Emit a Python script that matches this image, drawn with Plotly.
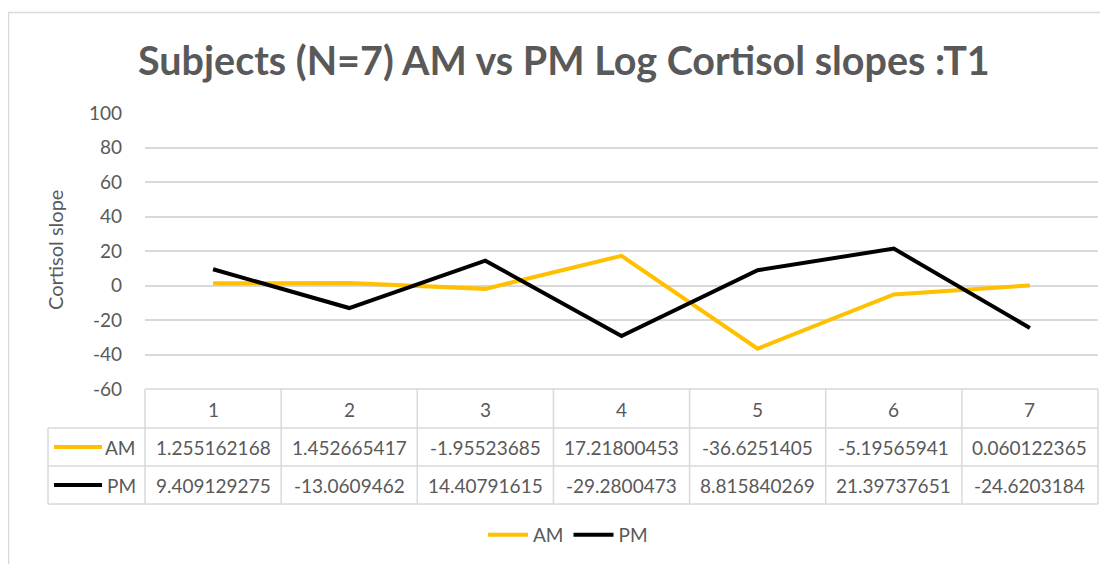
import plotly.graph_objects as go

# ---------------- data ----------------
subjects = [1, 2, 3, 4, 5, 6, 7]
am_slopes = [1.255162168, 1.452665417, -1.95523685, 17.21800453, -36.6251405, -5.19565941, 0.060122365]
pm_slopes = [9.409129275, -13.0609462, 14.40791615, -29.2800473, 8.815840269, 21.39737651, -24.6203184]
y_ticks = [-60, -40, -20, 0, 20, 40, 60, 80, 100]
series_names = ["AM", "PM"]

TITLE = "Subjects (N=7) AM vs PM Log Cortisol slopes :T1"
Y_TITLE = "Cortisol slope"

# ---------------- style ----------------
AM_COLOR = "#FFC000"
PM_COLOR = "#000000"
TEXT = "#595959"
GRID = "#D9D9D9"
FONT = "Lato"

OFF = 8                      # browser body margin
W, H = 1100, 556
PL, PR, PT, PB = 145 - OFF, 1098 - OFF, 113 - OFF, 389 - OFF


def px(x):
    return (x - OFF - PL) / (PR - PL)


def py(y):
    return (PB - (y - OFF)) / (PB - PT)


fig = go.Figure()
series = [(series_names[0], am_slopes, AM_COLOR), (series_names[1], pm_slopes, PM_COLOR)]
for name, vals, col in series:
    fig.add_trace(go.Scatter(x=subjects, y=vals, mode="lines", name=name,
                             line=dict(color=col, width=4)))

shapes = []
annotations = []


def hline(y, x0, x1):
    shapes.append(dict(type="line", xref="paper", yref="paper", x0=px(x0), x1=px(x1),
                       y0=py(y), y1=py(y), line=dict(color=GRID, width=1.5), layer="below"))


def vline_paper(x, y0, y1):
    shapes.append(dict(type="line", xref="paper", yref="paper", x0=px(x), x1=px(x),
                       y0=py(y0), y1=py(y1), line=dict(color=GRID, width=1.5), layer="below"))


# table grid
hline(389, 145, 1098)
for yy in (428, 466, 504):
    hline(yy, 48, 1098)
vline_paper(48, 428, 504)
vline_paper(145, 389, 504)
vline_paper(1098, 389, 504)
for k in range(len(subjects) - 1):
    xb = (subjects[k] + subjects[k + 1]) / 2
    shapes.append(dict(type="line", xref="x", yref="paper", x0=xb, x1=xb,
                       y0=py(389), y1=py(504), line=dict(color=GRID, width=1.5), layer="below"))

# chart frame (left & top)
shapes.append(dict(type="line", xref="paper", yref="paper", x0=px(8.5), x1=px(8.5),
                   y0=py(12), y1=py(600), line=dict(color=GRID, width=1.5)))
shapes.append(dict(type="line", xref="paper", yref="paper", x0=px(8), x1=px(1200),
                   y0=py(12.5), y1=py(12.5), line=dict(color=GRID, width=1.5)))


def label(x, y, text, size=19, xref="paper", xanchor="center", angle=0):
    annotations.append(dict(x=x, y=y, xref=xref, yref="paper", text=text, showarrow=False,
                            xanchor=xanchor, yanchor="middle", textangle=angle,
                            font=dict(size=size, color=TEXT, family=FONT)))


# header row
for s in subjects:
    label(s, py(409), str(s), xref="x")

# data rows
row_y = [447, 485]
for (name, vals, col), ry in zip(series, row_y):
    for s, v in zip(subjects, vals):
        label(s, py(ry), str(v), xref="x")
    shapes.append(dict(type="line", xref="paper", yref="paper", x0=px(54), x1=px(102),
                       y0=py(ry), y1=py(ry), line=dict(color=col, width=4)))
    label(px(138), py(ry), name, xanchor="right")

# title
label(px(564), py(59), "<b>" + TITLE + "</b>", size=39.5)
# y title
label(px(55), py(250), Y_TITLE, size=20, angle=-90)

fig.update_layout(
    width=W, height=H,
    margin=dict(l=PL, r=W - PR, t=PT, b=H - PB, pad=0),
    paper_bgcolor="white", plot_bgcolor="white",
    font=dict(family=FONT, color=TEXT, size=19),
    shapes=shapes, annotations=annotations,
    showlegend=True,
    legend=dict(orientation="h", x=px(568), xanchor="center", y=py(535), yanchor="middle",
                font=dict(size=19, color=TEXT, family=FONT), itemwidth=40),
    xaxis=dict(range=[0.5, 7.5], showgrid=False, showticklabels=False, zeroline=False,
               showline=False, fixedrange=True),
    yaxis=dict(range=[-60, 100], tickvals=y_ticks, ticktext=[str(t) for t in y_ticks],
               showgrid=True, gridcolor=GRID, gridwidth=1.5,
               zeroline=False, showline=False, ticklabelstandoff=22,
               tickfont=dict(size=19, color=TEXT, family=FONT)),
)

fig.write_html("out.html")
